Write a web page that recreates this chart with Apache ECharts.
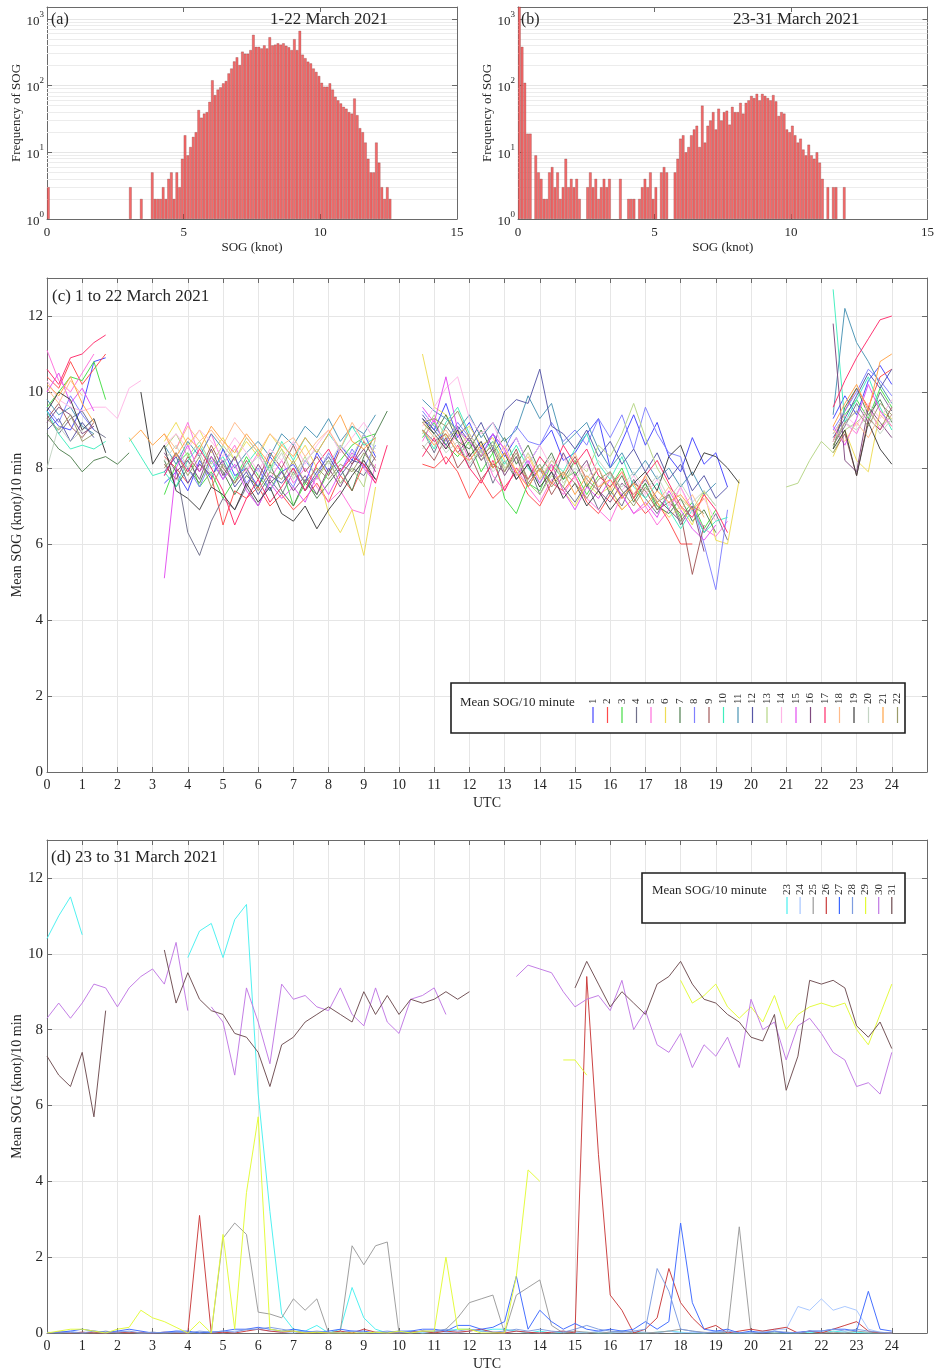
<!DOCTYPE html>
<html>
<head>
<meta charset="utf-8">
<title>SOG statistics, March 2021</title>
<script src="https://cdn.jsdelivr.net/npm/echarts@6.0.0/dist/echarts.min.js"></script>
<style>
  html, body { margin: 0; padding: 0; background: #ffffff; }
  #chart { width: 937px; height: 1372px; }
</style>
</head>
<body>
<div id="chart"></div>
<script>
const _ = null;

// ---------- Histograms: bin left edge (knot) and count ----------
const BIN_WIDTH = 0.1;

const binStartA = [0.0, 3.0, 3.4,
  3.8, 3.9, 4.0, 4.1, 4.2, 4.3, 4.4, 4.5, 4.6, 4.7, 4.8, 4.9,
  5.0, 5.1, 5.2, 5.3, 5.4, 5.5, 5.6, 5.7, 5.8, 5.9,
  6.0, 6.1, 6.2, 6.3, 6.4, 6.5, 6.6, 6.7, 6.8, 6.9,
  7.0, 7.1, 7.2, 7.3, 7.4, 7.5, 7.6, 7.7, 7.8, 7.9,
  8.0, 8.1, 8.2, 8.3, 8.4, 8.5, 8.6, 8.7, 8.8, 8.9,
  9.0, 9.1, 9.2, 9.3, 9.4, 9.5, 9.6, 9.7, 9.8, 9.9,
  10.0, 10.1, 10.2, 10.3, 10.4, 10.5, 10.6, 10.7, 10.8, 10.9,
  11.0, 11.1, 11.2, 11.3, 11.4, 11.5, 11.6, 11.7, 11.8, 11.9,
  12.0, 12.1, 12.2, 12.3, 12.4, 12.5];
const countA = [3, 3, 2,
  5, 2, 2, 2, 3, 2, 4, 5, 2, 5, 3, 8,
  18, 9, 12, 17, 20, 43, 33, 38, 40, 57,
  120, 72, 87, 94, 108, 117, 152, 180, 230, 265,
  203, 322, 300, 300, 340, 575, 380, 380, 360, 400,
  360, 530, 400, 410, 430, 410, 430, 395, 375, 340,
  495, 340, 660, 290, 257, 228, 215, 180, 160, 139,
  110, 96, 96, 108, 87, 68, 60, 54, 48, 45,
  40, 38, 64, 36, 23, 20, 14, 8, 5, 5,
  14, 7, 3, 2, 3, 2];

const binStartB = [0.0, 0.1, 0.2, 0.3, 0.4,
  0.6, 0.7, 0.8, 0.9, 1.0, 1.1, 1.2, 1.3, 1.4, 1.5, 1.6, 1.7, 1.8, 1.9, 2.0, 2.1, 2.2,
  2.5, 2.6, 2.7, 2.8, 2.9, 3.0, 3.1, 3.2, 3.3,
  3.7,
  4.0, 4.1, 4.2, 4.4, 4.5, 4.6, 4.7, 4.8, 4.9, 5.0,
  5.2, 5.3, 5.4,
  5.7, 5.8, 5.9, 6.0, 6.1, 6.2, 6.3, 6.4, 6.5, 6.6, 6.7, 6.8, 6.9,
  7.0, 7.1, 7.2, 7.3, 7.4, 7.5, 7.6, 7.7, 7.8, 7.9,
  8.0, 8.1, 8.2, 8.3, 8.4, 8.5, 8.6, 8.7, 8.8, 8.9,
  9.0, 9.1, 9.2, 9.3, 9.4, 9.5, 9.6, 9.7, 9.8, 9.9,
  10.0, 10.1, 10.2, 10.3, 10.4, 10.5, 10.6, 10.7, 10.8, 10.9,
  11.0, 11.1, 11.3, 11.5, 11.6, 11.9];
const countB = [1600, 380, 110, 19, 19,
  9, 5, 4, 2, 2, 5, 6, 3, 5, 2, 3, 8, 3, 4, 3, 4, 2,
  3, 5, 3, 4, 2, 3, 4, 3, 4,
  4,
  2, 2, 2, 2, 3, 4, 3, 5, 2, 3,
  5, 6, 5,
  5, 8, 16, 18, 10, 12, 18, 22, 25, 12, 50, 14, 25,
  30, 40, 22, 45, 30, 40, 42, 26, 48, 40,
  40, 55, 38, 55, 60, 70, 65, 75, 60, 75,
  70, 65, 60, 72, 58, 35, 40, 38, 22, 20,
  25, 18, 14, 16, 11, 9, 13, 9, 8, 10,
  7, 4, 3, 3, 3, 3];

// Minor grid levels of the log frequency axis
const minorLevels = [2, 3, 4, 5, 6, 7, 8, 9, 20, 30, 40, 50, 60, 70, 80, 90, 200, 300, 400, 500, 600, 700, 800, 900];

// ---------- Mean SOG per day, 20-minute slots from 00:00 to 24:00 UTC (73 slots) ----------
const SLOTS_PER_HOUR = 3;

const sog01 = [9.5,9.1,9.0, 9.6,10.8,10.9, _,_,_, _,7.6,7.9, 7.4,8.2,7.7, 8.5,7.8,8.0, 7.5,8.3,7.9, 8.1,7.6,8.4, 7.9,8.6,8.2, 8.9,8.3,_, _,_,9.3, 9.0,9.7,8.8, 9.2,8.5,8.9, 8.3,8.8,8.1, 8.6,9.0,8.2, 8.4,8.9,9.3, 8.0,8.7,9.4, 8.6,9.2,8.3, 7.9,8.8,8.1, 8.4,7.5,_, _,_,_, _,_,_, _,9.3,9.9, 9.4,10.3,10.7, 10.2];
const sog02 = [10.4,10.1,10.8, 10.2,10.6,11.0, _,_,_, _,8.3,8.0, 7.6,8.1,7.8, 6.5,7.4,7.2, 7.5,7.0,7.3, 6.9,7.2,7.6, 7.1,7.8,7.4, 8.1,7.7,_, _,_,8.1, 8.0,8.3,7.9, 7.2,7.7,7.2, 7.5,7.9,7.3, 7.0,7.6,7.4, 7.8,7.1,6.8, 7.3,6.9,7.2, 6.8,7.1,6.6, 6.0,6.0,_, _,_,_, _,_,_, _,_,_, _,8.7,9.5, 10.1,9.6,10.4, 10.6];
const sog03 = [9.6,10.0,10.4, 10.3,10.8,9.8, _,_,_, _,7.3,8.1, 8.4,7.5,7.9, 7.2,7.7,8.3, 7.8,7.4,8.0, 7.0,7.6,7.3, 7.9,8.2,8.6, 8.8,8.9,_, _,_,8.8, 9.2,8.6,8.3, 8.7,7.9,8.4, 7.2,6.8,7.6, 7.4,8.1,7.7, 7.9,7.3,7.8, 7.5,8.0,7.2, 7.6,6.9,7.3, 6.7,7.1,6.4, 6.9,_,_, _,_,_, _,_,_, _,8.9,9.4, 9.8,9.3,10.1, 9.6];
const sog04 = [9.4,8.9,9.3, 9.5,9.0,8.8, _,_,_, _,_,8.0, 6.3,5.7,6.6, 7.2,6.9,7.5, 7.0,7.7,7.3, 7.9,7.4,7.8, 8.2,7.6,8.0, 7.8,8.3,_, _,_,9.0, 8.4,9.1,8.7, 8.0,8.5,7.6, 8.2,7.7,8.1, 7.3,7.9,7.5, 7.1,7.6,6.9, 7.4,7.0,7.7, 7.2,6.8,7.3, 6.5,7.0,6.3, 6.8,6.1,_, _,_,_, _,_,_, _,8.6,9.1, 9.7,9.2,10.0, 9.5];
const sog05 = [11.1,10.3,10.0, 10.5,11.0,_, _,_,_, _,_,8.5, 9.2,8.3,8.9, 8.1,8.6,7.9, 8.4,7.7,8.2, 7.6,8.0,7.5, 7.1,7.4,6.9, 6.8,8.1,_, _,_,8.7, 9.3,8.5,8.9, 8.2,8.6,7.8, 7.4,8.0,7.5, 7.1,7.7,7.3, 7.8,7.2,6.9, 6.6,7.3,6.8, 7.0,6.5,6.9, 7.5,6.9,6.4, 6.2,6.6,_, _,_,_, _,_,_, _,8.7,9.2, 8.9,9.6,9.0, 9.4];
const sog06 = [_,_,_, _,_,_, _,_,_, _,8.7,9.2, 8.6,9.0,8.4, 8.8,8.2,8.7, 8.3,8.9,8.5, 8.1,8.6,8.0, 6.8,6.3,6.9, 5.7,7.5,_, _,_,11.0, 9.6,9.4,8.9, 9.1,8.6,8.8, 8.2,7.8,8.4, 7.7,8.1,7.4, 7.0,7.6,7.3, 7.5,6.9,7.2, 7.8,7.1,6.7, 7.0,6.5,7.4, 6.1,6.0,7.7, _,_,_, _,_,_, _,8.3,9.0, 8.2,7.9,9.5, 9.3];
const sog07 = [8.9,8.5,8.3, 7.9,8.2,8.3, 8.1,8.4,_, _,8.2,7.5, 8.0,7.6,8.3, 7.9,7.3,7.8, 7.5,8.1,7.4, 7.0,7.7,7.2, 7.6,8.0,7.4, 8.3,8.9,9.5, _,_,9.2, 8.9,9.4,8.7, 8.5,9.0,8.4, 8.8,8.1,8.6, 7.9,8.4,7.7, 8.2,7.5,8.0, 7.3,7.8,7.1, 7.6,7.0,6.8, 7.2,6.6,6.9, 6.3,_,_, _,_,_, _,_,_, _,8.5,9.6, 10.1,9.4,9.8, 9.2];
const sog08 = [9.6,9.2,9.9, 9.4,9.0,_, _,_,_, _,7.8,8.4, 8.0,7.5,8.2, 7.7,8.3,7.6, 8.0,7.4,7.9, 7.5,8.2,7.8, 8.4,7.9,8.5, 8.0,8.6,_, _,_,9.5, 9.1,8.7,9.2, 8.8,8.3,8.9, 8.5,9.1,8.7, 8.6,9.2,8.7, 9.0,8.6,9.3, 8.8,9.4,8.5, 9.6,8.9,8.4, 8.3,7.1,6.0, 4.8,6.9,_, _,_,_, _,_,_, _,9.0,9.5, 10.0,10.6,10.3, 9.9];
const sog09 = [9.3,9.7,9.1, 8.8,9.2,_, _,_,_, _,8.1,7.7, 8.3,7.9,8.6, 8.0,7.6,8.2, 7.7,8.4,8.0, 8.6,7.9,8.3, 7.8,8.5,8.1, 8.7,8.2,_, _,_,8.6, 8.2,8.8,8.0, 8.4,7.7,8.1, 7.9,8.5,7.6, 8.0,7.3,7.8, 8.3,7.7,7.4, 7.9,7.2,7.6, 7.4,6.9,7.1, 6.8,5.2,6.5, _,_,_, _,_,_, _,_,_, _,8.4,8.9, 7.8,9.3,9.0, 9.6];
const sog10 = [9.5,8.9,8.5, 8.6,8.5,8.7, _,8.8,8.3, 7.8,7.9,7.5, 8.2,8.6,8.0, 8.3,7.7,8.1, 8.5,7.9,8.7, 8.2,8.8,8.4, 8.9,8.5,9.1, 8.6,8.8,_, _,_,9.0, 8.5,9.2,9.6, 8.9,8.4,8.7, 8.1,8.6,8.0, 7.6,8.2,7.9, 8.5,8.9,8.1, 7.7,8.3,7.5, 7.2,7.6,6.9, 6.4,6.9,6.3, 6.6,6.7,_, _,_,_, _,_,_, _,12.7,9.2, 9.8,10.4,9.6, 9.0];
const sog11 = [9.8,9.4,9.6, 9.1,8.9,_, _,_,_, _,8.6,8.1, 8.7,8.3,8.9, 8.5,8.0,8.4, 8.7,8.3,8.9, 8.6,9.1,8.8, 9.3,8.7,9.1, 8.9,9.4,_, _,_,9.8, 9.5,9.3,9.0, 9.4,8.8,9.2, 8.7,9.0,9.9, 9.3,9.7,8.6, 8.9,9.2,8.5, 8.0,8.4,7.8, 8.2,7.7,8.0, 7.5,7.9,7.3, 7.6,_,_, _,_,_, _,_,_, _,9.4,12.2, 11.3,10.8,10.2, 9.7];
const sog12 = [9.0,9.3,8.7, 9.2,8.8,_, _,_,_, _,7.9,8.3, 7.6,8.1,7.8, 8.2,7.5,7.9, 7.3,7.8,7.6, 8.0,7.4,7.9, 8.3,7.8,8.2, 8.1,7.7,_, _,_,9.4, 9.0,8.6,9.1, 8.7,9.2,8.5, 9.5,9.8,9.7, 10.6,9.1,8.9, 8.5,9.0,8.3, 8.7,8.1,8.5, 7.9,8.4,7.7, 8.1,7.4,7.8, 7.2,7.5,_, _,_,_, _,_,_, _,8.8,9.3, 9.9,10.5,10.1, 10.6];
const sog13 = [_,_,_, _,_,_, _,_,_, _,8.5,8.9, 8.3,8.7,8.1, 8.6,8.2,8.8, 8.4,8.0,8.5, 7.8,8.3,7.7, 8.2,7.6,8.0, 7.5,8.8,_, _,_,8.9, 9.4,8.8,9.0, 8.6,8.2,8.7, 8.0,8.3,7.6, 7.3,7.8,7.5, 8.2,7.9,8.6, 8.3,8.9,9.7, 8.8,8.0,7.5, 7.2,6.9,7.4, 7.0,_,_, _,_,_, 7.5,7.6,8.2, 8.7,8.4,9.0, 9.2,9.5,9.1, 9.4];
const sog14 = [10.3,9.8,9.6, 9.5,9.6,9.6, 9.3,10.1,10.3, _,8.6,8.9, 8.5,9.0,8.7, 8.3,8.8,8.4, 7.9,8.5,8.2, 8.7,8.1,8.6, 9.0,8.4,8.8, 9.2,8.7,_, _,_,9.1, 9.6,10.1,10.4, 9.3,8.9,9.2, 8.4,8.8,8.1, 8.6,8.0,8.3, 7.7,8.1,7.5, 7.9,7.4,7.8, 7.3,7.7,7.0, 7.5,6.8,7.2, 6.6,_,_, _,_,_, _,_,_, _,8.9,9.4, 9.1,9.7,9.3, 9.8];
const sog15 = [10.0,10.5,9.7, 10.1,9.5,_, _,_,_, _,5.1,8.0, 8.6,7.9,8.3, 7.7,8.1,7.4, 7.0,7.6,7.2, 7.5,7.1,7.8, 7.3,7.9,8.4, 8.0,7.6,_, _,_,9.6, 9.2,10.4,9.0, 8.7,8.3,8.9, 8.5,7.8,8.2, 7.6,8.1,7.4, 6.9,7.5,7.2, 7.7,7.3,6.8, 7.1,6.7,7.4, 6.9,6.4,6.1, 6.5,_,_, _,_,_, _,_,_, _,9.1,8.6, 9.3,10.2,9.5, 9.1];
const sog16 = [9.2,9.6,9.4, 8.9,9.1,_, _,_,_, _,8.4,7.9, 8.2,7.7,8.5, 7.8,8.3,7.5, 8.1,7.6,7.9, 7.4,7.8,7.3, 8.0,7.5,8.1, 8.5,7.9,_, _,_,9.0, 8.7,8.9,8.4, 8.8,8.2,8.5, 7.8,8.3,7.5, 8.0,7.6,8.4, 7.8,8.2,7.4, 7.1,7.6,7.3, 7.7,7.2,6.9, 6.6,7.0,5.8, _,_,_, _,_,_, _,_,_, _,11.8,8.2, 7.9,9.6,9.2, 8.8];
const sog17 = [10.6,10.2,10.9, 11.0,11.3,11.5, _,_,_, _,7.8,8.4, 7.9,8.5,8.0, 7.4,6.5,7.2, 7.7,7.1,7.5, 8.0,7.4,8.1, 8.5,7.9,8.3, 8.1,7.6,8.6, _,_,8.3, 8.8,8.1,8.6, 8.0,7.6,8.2, 7.4,8.0,7.7, 8.3,7.9,8.6, 8.1,8.5,7.8, 7.5,7.9,7.2, 7.8,8.2,7.6, 7.0,6.7,7.3, 6.9,6.3,_, _,_,_, _,_,_, _,9.6,10.3, 10.9,11.4,11.9, 12.0];
const sog18 = [10.1,9.7,10.3, 9.9,_,_, _,_,_, _,8.9,8.5, 9.1,8.7,9.0, 8.6,9.2,8.8, 8.4,8.9,8.6, 8.8,8.3,8.7, 9.0,8.5,9.2, 8.7,8.4,_, _,_,9.2, 8.8,9.0,8.5, 8.9,8.4,8.1, 8.6,7.9,8.3, 7.7,8.2,7.8, 8.4,7.6,8.0, 7.4,7.9,7.3, 7.8,7.1,7.5, 6.9,7.3,6.7, _,_,_, _,_,_, _,_,_, _,9.0,8.7, 9.2,8.8,9.4, 9.1];
const sog19 = [9.5,10.0,9.8, 9.0,9.3,8.4, _,_,10.0, 8.1,8.6,7.4, 7.2,6.9,7.5, 7.3,6.9,7.6, 7.1,7.5,6.8, 6.6,7.0,6.4, 6.9,7.3,7.8, 8.2,7.7,_, _,_,9.3, 8.9,8.5,9.0, 8.3,8.7,8.0, 8.4,7.7,8.1, 7.5,7.9,7.2, 7.6,7.0,7.4, 6.9,7.3,7.6, 7.9,7.4,8.3, 8.6,7.8,8.4, 8.3,8.0,7.6, _,_,_, _,_,_, _,8.5,9.0, 7.8,9.2,8.5, 8.1];
const sog20 = [8.0,9.1,8.7, 9.0,_,_, _,_,_, _,8.2,8.6, 8.0,8.4,7.8, 8.1,8.5,8.0, 8.3,7.9,8.4, 7.7,8.2,8.5, 8.1,8.6,8.3, 8.9,8.5,_, _,_,8.5, 8.9,8.4,8.7, 8.1,8.5,7.9, 8.2,7.8,8.4, 7.9,8.3,7.6, 8.0,7.7,8.2, 7.8,7.5,7.9, 7.4,7.8,7.2, 7.6,7.1,7.4, 7.0,_,_, _,_,_, _,_,_, _,8.7,9.2, 9.0,9.4,8.9, 9.3];
const sog21 = [10.2,9.9,10.4, 9.7,9.2,_, _,8.7,9.0, 8.6,8.9,8.3, 8.8,8.5,9.1, 8.7,8.4,8.9, 8.5,8.1,8.6, 8.3,8.8,8.4, 8.9,9.4,8.7, 8.5,8.8,_, _,_,9.0, 8.6,8.9,8.4, 8.2,8.6,8.0, 8.4,7.9,7.5, 8.0,7.6,7.9, 7.3,7.8,7.5, 7.7,7.2,7.6, 7.0,7.4,7.1, 7.3,6.9,7.2, _,_,_, _,_,_, _,_,_, _,9.1,9.7, 10.2,9.5,10.8, 11.0];
const sog22 = [9.3,9.0,9.4, 8.7,8.9,_, _,_,_, _,8.0,8.4, 7.8,8.3,7.5, 8.1,7.6,8.0, 7.4,7.9,7.7, 8.2,7.6,8.0, 7.7,8.1,7.9, 8.4,8.0,_, _,_,9.2, 9.3,9.1,9.5, 8.8,8.3,8.6, 7.9,8.4,7.7, 8.1,7.5,7.9, 7.6,7.2,7.7, 7.9,7.4,7.0, 7.5,7.1,7.3, 6.6,7.0,6.8, _,_,_, _,_,_, _,_,_, _,8.6,9.2, 9.5,9.1,9.7, 9.4];

const sog23 = [10.4,11.0,11.5, 10.5,_,_, _,_,_, _,_,_, 9.9,10.6,10.8, 9.9,10.9,11.3, 6.3,3.2,0.5, 0.1,0.05,0.2, 0.0,0.1,1.2, 0.4,0.1,0.0, 0.0,0.05,0.0, 0.02,0.05,0.1, 0.1,0.05,0.1, 0.1,0.05,0.0, 0.05,0.0,0.02, 0.0,0.02,0.0, 0.0,0.05,0.02, 0.0,0.02,0.05, 0.02,0.0,0.0, 0.02,0.0,0.0, 0.0,0.02,0.0, 0.0,0.0,0.02, 0.0,0.05,0.02, 0.02,0.0,0.0, 0.0];
const sog24 = [0.0,0.02,0.05, 0.0,0.02,0.0, 0.05,0.02,0.0, 0.0,0.02,0.05, 0.02,0.0,0.05, 0.0,0.05,0.08, 0.1,0.05,0.02, 0.0,0.05,0.02, 0.0,0.02,0.05, 0.02,0.0,0.0, 0.02,0.05,0.0, 0.05,0.02,0.0, 0.05,0.1,0.02, 0.0,0.05,0.02, 0.0,0.02,0.05, 0.02,0.0,0.05, 0.0,0.02,0.05, 0.02,0.0,0.05, 0.0,0.02,0.0, 0.05,0.0,0.02, 0.0,0.05,0.1, 0.1,0.7,0.6, 0.9,0.6,0.7, 0.6,0.1,0.02, 0.0];
const sog25 = [0.0,0.02,0.0, 0.02,0.0,0.05, 0.0,0.02,0.0, 0.02,0.0,0.02, 0.0,0.02,0.0, 2.5,2.9,2.6, 0.55,0.5,0.4, 0.9,0.6,0.9, 0.0,0.05,2.3, 1.8,2.3,2.4, 0.0,0.02,0.05, 0.02,0.1,0.4, 0.8,0.9,1.0, 0.0,1.0,1.2, 1.4,0.2,0.0, 0.05,0.02,0.0, 0.02,0.05,0.0, 0.0,0.02,0.05, 0.1,0.05,0.02, 0.0,0.02,2.8, 0.0,0.02,0.0, 0.02,0.0,0.05, 0.0,0.02,0.0, 0.05,0.02,0.0, 0.0];
const sog26 = [0.0,0.02,0.0, 0.02,0.0,0.0, 0.02,0.0,0.02, 0.0,0.02,0.0, 0.0,3.1,0.0, 0.02,0.0,0.05, 0.1,0.05,0.02, 0.05,0.0,0.02, 0.0,0.05,0.0, 0.1,0.02,0.0, 0.0,0.02,0.05, 0.0,0.05,0.02, 0.05,0.1,0.02, 0.0,0.05,0.02, 0.0,0.02,0.05, 0.0,9.4,4.7, 1.0,0.6,0.0, 0.1,0.4,1.7, 0.8,0.4,0.1, 0.2,0.0,0.05, 0.1,0.05,0.1, 0.15,0.0,0.05, 0.0,0.1,0.2, 0.3,0.05,0.0, 0.0];
const sog27 = [0.0,0.02,0.05, 0.1,0.05,0.02, 0.05,0.1,0.05, 0.0,0.02,0.05, 0.05,0.0,0.02, 0.05,0.1,0.1, 0.15,0.1,0.05, 0.1,0.05,0.02, 0.05,0.1,0.05, 0.05,0.0,0.02, 0.05,0.05,0.1, 0.1,0.05,0.2, 0.2,0.1,0.15, 0.3,1.5,0.1, 0.6,0.3,0.1, 0.25,0.1,0.05, 0.1,0.05,0.1, 0.3,0.1,0.3, 2.9,0.8,0.1, 0.05,0.1,0.0, 0.05,0.0,0.05, 0.0,0.02,0.05, 0.05,0.1,0.1, 0.05,1.1,0.1, 0.05];
const sog28 = [0.02,0.0,0.02, 0.0,0.05,0.02, 0.02,0.05,0.0, 0.02,0.0,0.02, 0.0,0.05,0.02, 0.05,0.02,0.1, 0.1,0.15,0.1, 0.05,0.02,0.05, 0.02,0.0,0.05, 0.0,0.02,0.05, 0.02,0.0,0.05, 0.05,0.1,0.05, 0.1,0.05,0.02, 0.05,0.1,0.05, 0.1,0.05,0.02, 0.1,0.2,0.1, 0.05,0.02,0.05, 0.1,1.7,1.1, 0.1,0.05,0.0, 0.02,0.05,0.0, 0.0,0.02,0.05, 0.02,0.0,0.05, 0.05,0.1,0.05, 0.1,0.05,0.02, 0.0];
const sog29 = [0.0,0.05,0.1, 0.1,0.05,0.0, 0.1,0.15,0.6, 0.4,0.3,0.15, 0.0,0.3,0.0, 2.6,0.1,3.7, 5.7,0.1,0.05, 0.05,0.0,0.02, 0.0,0.0,0.0, 0.0,0.02,0.0, 0.05,0.0,0.05, 0.05,2.0,0.1, 0.1,0.0,0.0, 0.0,1.5,4.3, 4.0,_,7.2, 7.2,6.8,_, _,_,_, _,_,_, 9.3,8.7,8.9, 9.2,8.6,8.3, 8.6,8.2,8.9, 8.0,8.4,8.6, 8.7,8.6,8.7, 8.0,7.6,8.4, 9.2];
const sog30 = [8.3,8.7,8.3, 8.7,9.2,9.1, 8.6,9.1,9.4, 9.6,9.2,10.3, 8.5,_,8.6, 8.2,6.8,9.1, 8.2,7.1,9.2, 8.8,8.9,8.6, 8.5,9.1,8.4, 8.1,9.1,8.2, 7.9,8.8,8.9, 9.1,8.4,_, _,_,_, _,9.4,9.7, 9.6,9.5,9.0, 8.6,8.8,8.9, 8.5,9.3,8.0, 8.5,7.6,7.4, 7.9,7.0,7.6, 7.3,7.8,7.0, 8.8,8.0,8.2, 7.2,8.1,8.3, 7.9,7.4,7.2, 6.5,6.6,6.3, 7.4];
const sog31 = [7.3,6.8,6.5, 7.4,5.7,8.5, _,_,_, _,10.1,8.7, 9.5,8.8,8.5, 8.4,7.9,7.8, 7.4,6.5,7.6, 7.8,8.2,8.4, 8.6,8.4,8.2, 9.0,8.4,8.9, 8.4,8.8,8.7, 8.8,9.0,8.8, 9.0,_,_, _,_,_, _,_,_, 9.1,9.8,9.2, 8.6,9.0,8.7, 8.4,9.2,9.4, 9.8,9.2,8.8, 8.7,8.4,8.2, 7.8,7.7,8.4, 6.4,7.3,9.3, 9.2,9.3,9.1, 8.1,7.8,8.2, 7.5];

const daysC = ['1','2','3','4','5','6','7','8','9','10','11','12','13','14','15','16','17','18','19','20','21','22'];
const valuesC = [sog01, sog02, sog03, sog04, sog05, sog06, sog07, sog08, sog09, sog10, sog11,
                 sog12, sog13, sog14, sog15, sog16, sog17, sog18, sog19, sog20, sog21, sog22];
const colorsC = ['#4545ff', '#ff4a4a', '#45dd45', '#70708a', '#ff70dc', '#eedc55', '#4f7f4f', '#8080ff',
                 '#a35a5a', '#40eebe', '#4a94b4', '#5656a6', '#b5d585', '#ffb6e6', '#e34ef0', '#7f4a7f',
                 '#ff2a6a', '#ffbb8a', '#3c3c3c', '#c4d4c4', '#ffa448', '#9b9b6a'];

const daysD = ['23','24','25','26','27','28','29','30','31'];
const valuesD = [sog23, sog24, sog25, sog26, sog27, sog28, sog29, sog30, sog31];
const colorsD = ['#48f0f0', '#a6c6ff', '#9a9a9a', '#c93a3a', '#3c68ff', '#7d9ce0', '#e3fb36', '#c077e4', '#6e4c50'];

// ---------- Styling ----------
const FONT = '"Liberation Serif", "Times New Roman", serif';
const AXIS = '#6a6a6a';
const GRIDLINE = '#e6e6e6';
const TEXT = '#262626';

const chart = echarts.init(document.getElementById('chart'), null, { renderer: 'canvas' });

const grids = [
  { left: 47, top: 7, width: 410, height: 212 },
  { left: 518, top: 7, width: 410, height: 212 },
  { left: 47, top: 278, width: 880, height: 494 },
  { left: 47, top: 840, width: 880, height: 494 }
];

function frameAxis(extra) {
  return Object.assign({
    axisLine: { show: true, onZero: false, lineStyle: { color: AXIS, width: 1 } },
    axisTick: { show: true, inside: true, length: 5, lineStyle: { color: AXIS } },
    axisLabel: { show: false },
    splitLine: { show: false },
    nameMoveOverlap: false
  }, extra);
}

function supLabel(v) {
  const e = Math.log10(v);
  const r = Math.round(e);
  if (Math.abs(e - r) > 1e-6) return '';
  return '{b|10}{e|' + r + '}';
}

const logRich = {
  b: { fontFamily: FONT, fontSize: 13, color: TEXT, lineHeight: 18, verticalAlign: 'bottom' },
  e: { fontFamily: FONT, fontSize: 9, color: TEXT, lineHeight: 10, verticalAlign: 'top' }
};

const xAxes = [];
const yAxes = [];

// histogram axes (grids 0, 1)
[0, 1].forEach(g => {
  xAxes.push(frameAxis({
    gridIndex: g, type: 'value', min: 0, max: 15, interval: 5,
    axisLabel: { show: true, fontFamily: FONT, fontSize: 13, color: TEXT, margin: 7 },
    name: 'SOG (knot)', nameLocation: 'middle', nameGap: 22,
    nameTextStyle: { fontFamily: FONT, fontSize: 13, color: TEXT }
  }));
  yAxes.push(frameAxis({
    gridIndex: g, type: 'log', logBase: 10, min: 1, max: 1500,
    axisLabel: { show: true, formatter: supLabel, rich: logRich, margin: 3 },
    splitLine: { show: true, lineStyle: { color: GRIDLINE, width: 1 } },
    name: 'Frequency of SOG', nameLocation: 'middle', nameGap: 24,
    nameTextStyle: { fontFamily: FONT, fontSize: 13, color: TEXT }
  }));
});

// time-series axes (grids 2, 3)
[2, 3].forEach(g => {
  xAxes.push(frameAxis({
    gridIndex: g, type: 'value', min: 0, max: 25, interval: 1,
    axisLabel: { show: true, fontFamily: FONT, fontSize: 14, color: TEXT, margin: 6,
                 formatter: v => (v > 24 ? '' : String(v)) },
    splitLine: { show: true, lineStyle: { color: GRIDLINE, width: 1 } },
    name: 'UTC', nameLocation: 'middle', nameGap: 24,
    nameTextStyle: { fontFamily: FONT, fontSize: 14, color: TEXT }
  }));
  yAxes.push(frameAxis({
    gridIndex: g, type: 'value', min: 0, max: 13, interval: 2,
    axisLabel: { show: true, fontFamily: FONT, fontSize: 15, color: TEXT, margin: 4,
                 formatter: v => (v % 2 ? '' : String(v)) },
    splitLine: { show: true, lineStyle: { color: GRIDLINE, width: 1 } },
    name: 'Mean SOG (knot)/10 min', nameLocation: 'middle', nameGap: 23,
    nameTextStyle: { fontFamily: FONT, fontSize: 14, color: TEXT }
  }));
});

// mirrored top / right frame axes
[0, 1].forEach(g => {
  xAxes.push(frameAxis({ gridIndex: g, type: 'value', position: 'top', min: 0, max: 15, interval: 5 }));
  yAxes.push(frameAxis({ gridIndex: g, type: 'log', logBase: 10, position: 'right', min: 1, max: 1500 }));
});
[2, 3].forEach(g => {
  xAxes.push(frameAxis({ gridIndex: g, type: 'value', position: 'top', min: 0, max: 25, interval: 1 }));
  yAxes.push(frameAxis({ gridIndex: g, type: 'value', position: 'right', min: 0, max: 13, interval: 2 }));
});

const series = [];

function histogram(axisIndex, starts, counts) {
  series.push({
    type: 'bar',
    xAxisIndex: axisIndex, yAxisIndex: axisIndex,
    data: starts.map((s, i) => [s + BIN_WIDTH / 2, counts[i]]),
    barWidth: '100%',
    clip: true,
    z: 3,
    itemStyle: { color: '#f46262', borderColor: 'rgba(95,30,30,0.5)', borderWidth: 0.5, opacity: 0.95 },
    markLine: {
      silent: true, symbol: 'none', z: 1, animation: false,
      label: { show: false },
      lineStyle: { color: '#ececec', type: 'solid', width: 1 },
      data: minorLevels.map(v => ({ yAxis: v }))
    }
  });
}
histogram(0, binStartA, countA);
histogram(1, binStartB, countB);

function dayLines(axisIndex, values, colors) {
  values.forEach((vals, k) => {
    series.push({
      type: 'line',
      xAxisIndex: axisIndex, yAxisIndex: axisIndex,
      data: vals.map((v, i) => [i / SLOTS_PER_HOUR, v === null ? '-' : v]),
      symbol: 'none', showSymbol: false,
      connectNulls: false,
      silent: true,
      z: 3,
      lineStyle: { color: colors[k], width: 1, opacity: 0.95 }
    });
  });
}
dayLines(2, valuesC, colorsC);
dayLines(3, valuesD, colorsD);

// ---------- Panel titles and legends ----------
const graphic = [];
function label(text, x, y, size) {
  graphic.push({
    type: 'text', x: x, y: y, z: 50, silent: true,
    style: { text: text, fontFamily: FONT, fontSize: size, fill: TEXT,
             align: 'left', verticalAlign: 'middle', textAlign: 'left', textVerticalAlign: 'middle' }
  });
}
label('(a)', 51, 20, 16);
label('1-22 March 2021', 270, 20, 17);
label('(b)', 521, 20, 16);
label('23-31 March 2021', 733, 20, 17);
label('(c) 1 to 22 March 2021', 52, 297, 17);
label('(d) 23 to 31 March 2021', 51, 858, 17);

function legendBox(box, titleX, titleY, firstX, step, numBottom, lineTop, lineBottom, days, colors) {
  graphic.push({
    type: 'rect', z: 40, silent: true,
    shape: { x: box[0], y: box[1], width: box[2], height: box[3] },
    style: { fill: '#ffffff', stroke: '#1e1e1e', lineWidth: 1.6 }
  });
  graphic.push({
    type: 'text', x: titleX, y: titleY, z: 50, silent: true,
    style: { text: 'Mean SOG/10 minute', fontFamily: FONT, fontSize: 13, fill: TEXT,
             align: 'left', verticalAlign: 'middle', textAlign: 'left', textVerticalAlign: 'middle' }
  });
  days.forEach((d, k) => {
    const x = firstX + k * step;
    graphic.push({
      type: 'text', x: x, y: numBottom, rotation: Math.PI / 2, z: 50, silent: true,
      style: { text: d, fontFamily: FONT, fontSize: 11, fill: TEXT,
               align: 'left', verticalAlign: 'middle', textAlign: 'left', textVerticalAlign: 'middle' }
    });
    graphic.push({
      type: 'line', z: 50, silent: true,
      shape: { x1: x, y1: lineTop, x2: x, y2: lineBottom },
      style: { stroke: colors[k], lineWidth: 1.2 }
    });
  });
}
legendBox([451, 683, 454, 50], 460, 703, 593, 14.5, 704, 707, 723, daysC, colorsC);
legendBox([642, 873, 263, 50], 652, 891, 787, 13.1, 895, 897, 914, daysD, colorsD);

chart.setOption({
  animation: false,
  backgroundColor: '#ffffff',
  textStyle: { fontFamily: FONT },
  grid: grids,
  xAxis: xAxes,
  yAxis: yAxes,
  series: series,
  graphic: graphic
});
</script>
</body>
</html>
